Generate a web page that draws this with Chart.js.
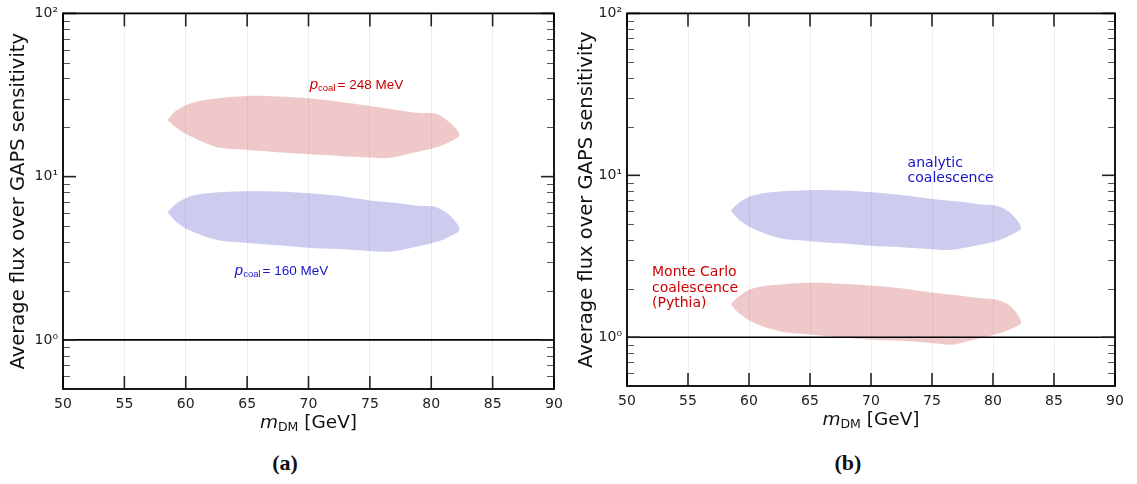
<!DOCTYPE html>
<html>
<head>
<meta charset="utf-8">
<script src="https://cdn.jsdelivr.net/npm/chart.js@4.4.1/dist/chart.umd.min.js"></script>
<style>
  body { margin:0; background:#fff; width:1137px; height:484px; overflow:hidden; position:relative; }
  canvas { position:absolute; top:0; }
  .cap { position:absolute; top:450px; width:100px; text-align:center; font:bold 22px "Liberation Serif", serif; color:#111; }
</style>
</head>
<body>
<canvas id="ca" width="570" height="440" style="left:0px"></canvas>
<canvas id="cb" width="567" height="440" style="left:570px"></canvas>
<div class="cap" style="left:235px">(a)</div>
<div class="cap" style="left:798px">(b)</div>
<script>
// ---- data ----
const xTicks = [50, 55, 60, 65, 70, 75, 80, 85, 90];
const yTicks = [1, 10, 100];
const yTickLabels = ['10\u2070', '10\u00B9', '10\u00B2'];
const yMinor = [0.6, 0.7, 0.8, 0.9, 2, 3, 4, 5, 6, 7, 8, 9, 20, 30, 40, 50, 60, 70, 80, 90];

// outline of each band, traced clockwise from the left tip (m_DM in GeV)
const outlineX = [58.5, 59.2, 60.3, 62, 65, 67.5, 70, 72.5, 75, 77.5, 79, 80.4, 81.5, 82.3,
                  81.5, 80.4, 78.5, 76.6, 75, 72.5, 70, 67.5, 65, 62.5, 60.3, 59.2, 58.5];
// panel (a)
const redA  = [22.2, 25.3, 28, 29.8, 31.2, 31, 30.2, 28.8, 27.1, 25.4, 24.5, 24.3, 21.5, 18.0,
               16.3, 15.1, 14.0, 13.0, 13.1, 13.4, 13.7, 14.1, 14.6, 15.2, 17.8, 20.0, 22.2];
const blueA = [6.05, 6.8, 7.55, 7.95, 8.13, 8.1, 7.9, 7.6, 7.15, 6.85, 6.62, 6.5, 5.8, 4.75,
               4.3, 3.97, 3.68, 3.47, 3.5, 3.6, 3.67, 3.8, 3.92, 4.1, 4.69, 5.3, 6.05];
// panel (b)
const blueB = [6.06, 6.8, 7.5, 7.9, 8.1, 8.05, 7.85, 7.55, 7.15, 6.85, 6.6, 6.45, 5.8, 4.73,
               4.3, 3.95, 3.68, 3.47, 3.5, 3.6, 3.67, 3.8, 3.92, 4.1, 4.7, 5.3, 6.06];
const redB  = [1.6, 1.8, 2.0, 2.1, 2.17, 2.14, 2.09, 2.01, 1.89, 1.8, 1.74, 1.7, 1.54, 1.24,
               1.13, 1.05, 0.97, 0.9, 0.92, 0.95, 0.97, 1.0, 1.04, 1.09, 1.24, 1.4, 1.6];

const yTitle = 'Average flux over GAPS sensitivity';
const RED = '#cc0000', BLUE = '#1414c8';
const RED_FILL = 'rgba(190,40,40,0.25)', BLUE_FILL = 'rgba(50,50,190,0.25)';

function blob(ys, fill) {
  return {
    data: outlineX.map((x, i) => ({ x: x, y: ys[i] })),
    showLine: true, fill: 'shape', backgroundColor: fill, borderColor: 'rgba(0,0,0,0)',
    borderWidth: 0, pointRadius: 0, tension: 0.3
  };
}

function line(ctx, x1, y1, x2, y2) { ctx.beginPath(); ctx.moveTo(x1, y1); ctx.lineTo(x2, y2); ctx.stroke(); }

function drawPcoal(ctx, x, y, num, color) {
  ctx.fillStyle = color; ctx.textAlign = 'left'; ctx.textBaseline = 'alphabetic';
  const base = y + 5;
  ctx.font = 'italic 15px "Liberation Sans"'; ctx.fillText('p', x, base);
  let w = ctx.measureText('p').width;
  ctx.font = '9.5px "Liberation Sans"'; ctx.fillText('coal', x + w, base + 2);
  w += ctx.measureText('coal').width + 2;
  ctx.font = '13.5px "Liberation Sans"'; ctx.fillText('= ' + num + ' MeV', x + w, base);
}

const deco = {
  id: 'deco',
  afterDatasetsDraw(chart, args, o) {
    const ctx = chart.ctx, a = chart.chartArea, xs = chart.scales.x, ys = chart.scales.y;
    ctx.save();
    ctx.strokeStyle = '#000';
    // reference line at 1
    ctx.lineWidth = 1.6;
    const y1 = ys.getPixelForValue(1);
    line(ctx, a.left, y1, a.right, y1);
    // inward ticks
    ctx.strokeStyle = '#222'; ctx.lineWidth = 1.6;
    xTicks.forEach(v => { const p = xs.getPixelForValue(v);
      line(ctx, p, a.top, p, a.top + 13); line(ctx, p, a.bottom, p, a.bottom - 13); });
    yTicks.forEach(v => { const p = ys.getPixelForValue(v);
      line(ctx, a.left, p, a.left + 13, p); line(ctx, a.right, p, a.right - 13, p); });
    ctx.strokeStyle = '#555'; ctx.lineWidth = 1;
    yMinor.forEach(v => { const p = Math.round(ys.getPixelForValue(v)) + 0.5;
      line(ctx, a.left, p, a.left + 7, p); line(ctx, a.right, p, a.right - 7, p); });
    // frame
    ctx.strokeStyle = '#000'; ctx.lineWidth = 1.8;
    ctx.strokeRect(a.left, a.top, a.right - a.left, a.bottom - a.top);
    // y title
    ctx.fillStyle = '#111';
    ctx.save();
    ctx.translate(o.yTitleX, (a.top + a.bottom) / 2);
    ctx.rotate(-Math.PI / 2);
    ctx.font = '19.5px "DejaVu Sans"'; ctx.textAlign = 'center'; ctx.textBaseline = 'middle';
    ctx.fillText(yTitle, 0, 0);
    ctx.restore();
    // x title: m_DM [GeV]
    ctx.textBaseline = 'alphabetic'; ctx.textAlign = 'left';
    const f1 = 'oblique 18.5px "DejaVu Sans"', f2 = '12.5px "DejaVu Sans"', f3 = '18.5px "DejaVu Sans"';
    ctx.font = f1; const w1 = ctx.measureText('m').width;
    ctx.font = f2; const w2 = ctx.measureText('DM').width;
    ctx.font = f3; const w3 = ctx.measureText(' [GeV]').width;
    let x0 = (a.left + a.right) / 2 - (w1 + w2 + w3) / 2;
    const base = a.bottom + 39;
    ctx.font = f1; ctx.fillText('m', x0, base);
    ctx.font = f2; ctx.fillText('DM', x0 + w1, base + 3);
    ctx.font = f3; ctx.fillText(' [GeV]', x0 + w1 + w2, base);
    // annotations
    (o.pLabels || []).forEach(l => drawPcoal(ctx, xs.getPixelForValue(l.x), ys.getPixelForValue(l.y), l.num, l.color));
    (o.textLabels || []).forEach(l => {
      ctx.fillStyle = l.color; ctx.font = '14px "DejaVu Sans"'; ctx.textAlign = 'left'; ctx.textBaseline = 'middle';
      const px = xs.getPixelForValue(l.x), py = ys.getPixelForValue(l.y);
      l.lines.forEach((t, i) => ctx.fillText(t, px, py + i * 15.5));
    });
    ctx.restore();
  }
};

function makeChart(id, datasets, yWidth, padRight, xHeight, decoOpts) {
  return new Chart(document.getElementById(id), {
    type: 'scatter',
    data: { datasets: datasets },
    plugins: [deco],
    options: {
      responsive: false, animation: false, devicePixelRatio: 1,
      layout: { padding: { left: 0, top: 12, right: padRight, bottom: 0 } },
      plugins: { legend: { display: false }, tooltip: { enabled: false }, deco: decoOpts },
      scales: {
        x: {
          type: 'linear', min: 50, max: 90,
          afterBuildTicks: s => { s.ticks = xTicks.map(v => ({ value: v })); },
          afterFit: s => { s.height = xHeight; },
          ticks: { font: { family: 'DejaVu Sans', size: 14 }, color: '#222', padding: 7, maxRotation: 0 },
          grid: { color: 'rgba(0,0,0,0.07)', lineWidth: 1, drawTicks: false },
          border: { display: false }
        },
        y: {
          type: 'logarithmic', min: 0.5, max: 100,
          afterBuildTicks: s => { s.ticks = yTicks.map(v => ({ value: v })); },
          afterFit: s => { s.width = yWidth; },
          ticks: { font: { family: 'DejaVu Sans', size: 14 }, color: '#222', padding: 5,
                   callback: v => yTickLabels[yTicks.indexOf(v)] },
          grid: { display: false, drawTicks: false },
          border: { display: false }
        }
      }
    }
  });
}

makeChart('ca', [blob(redA, RED_FILL), blob(blueA, BLUE_FILL)], 63, 16, 51, {
  yTitleX: 19,
  pLabels: [ { x: 70.1, y: 36.9, num: '248', color: RED }, { x: 64.0, y: 2.67, num: '160', color: BLUE } ]
});
makeChart('cb', [blob(blueB, BLUE_FILL), blob(redB, RED_FILL)], 57, 22, 54, {
  yTitleX: 17,
  textLabels: [
    { x: 73.0, y: 11.9, lines: ['analytic', 'coalescence'], color: BLUE },
    { x: 52.05, y: 2.51, lines: ['Monte Carlo', 'coalescence', '(Pythia)'], color: RED }
  ]
});
</script>
</body>
</html>
